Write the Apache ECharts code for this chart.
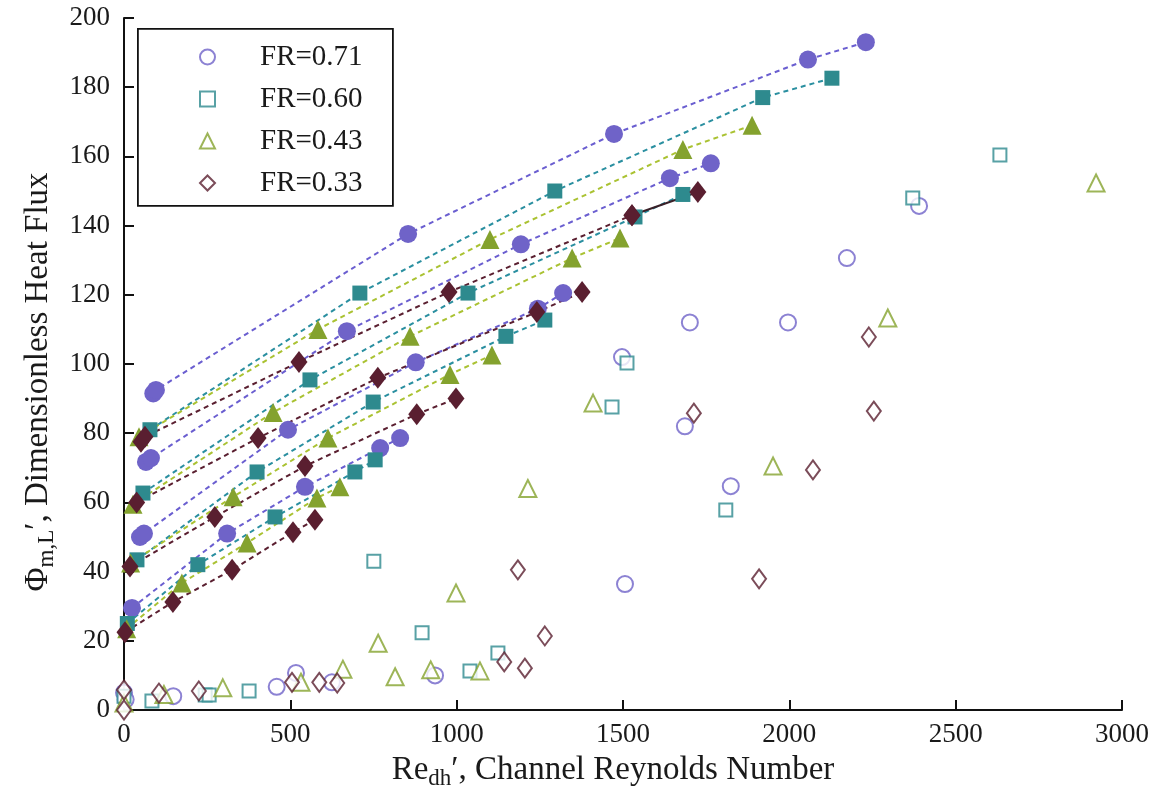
<!DOCTYPE html>
<html><head><meta charset="utf-8">
<script src="https://cdn.jsdelivr.net/npm/echarts@6/dist/echarts.min.js"></script>
<style>html,body{margin:0;padding:0;background:#fff;width:1157px;height:794px;overflow:hidden}#c{width:1157px;height:794px}</style>
</head><body><div id="c"></div>
<script>
// ---- x/y axis ticks ----
const xTicks = [0, 500, 1000, 1500, 2000, 2500, 3000];
const yTicks = [0, 20, 40, 60, 80, 100, 120, 140, 160, 180, 200];
const legendNames = ['FR=0.71', 'FR=0.60', 'FR=0.43', 'FR=0.33'];

// ---- filled points joined by dashed lines (x = Re_dh, y = Phi) ----
// FR = 0.71
const fr071_line1 = [[88,91.5],[96,92.5],[854,137.6],[1473,166.5],[2056,188],[2230,193]];
const fr071_line2 = [[66,71.7],[81,72.8],[670,109.5],[1193,134.6],[1641,153.7],[1764,158]];
const fr071_line3 = [[48,50],[60,51],[493,81],[877,100.5],[1244,116],[1320,120.5]];
const fr071_line4 = [[24,29.5],[310,51],[544,64.5],[770,75.7],[830,78.6]];
// FR = 0.60
const fr060_line1 = [[78,81],[709,120.5],[1295,150],[1920,177],[2128,182.6]];
const fr060_line2 = [[57,62.7],[559,95.4],[1034,120.5],[1536,142.5],[1680,149]];
const fr060_line3 = [[39,43.4],[400,68.8],[749,89],[1148,108],[1265,112.7]];
const fr060_line4 = [[10,25],[222,42],[454,55.8],[694,68.8],[755,72.3]];
// FR = 0.43
const fr043_line1 = [[45,79],[583,110],[1100,136],[1680,162],[1888,169]];
const fr043_line2 = [[27,59.5],[448,86],[860,108],[1347,130.6],[1491,136.4]];
const fr043_line3 = [[20,42.5],[328,61.6],[613,78.6],[980,97],[1106,102.6]];
const fr043_line4 = [[8,23.5],[174,36.7],[370,48.3],[580,61.3],[649,64.5]];
// FR = 0.33
const fr033_line1 = [[51,77.5],[63,79],[526,100.6],[977,120.8],[1527,143]];
const fr033_line1_end = [[1527,143],[1725,149.7]];
const fr033_line2 = [[38,60],[403,78.6],[763,96],[1241,115],[1377,120.8]];
const fr033_line3 = [[18,41.5],[273,55.8],[544,70.5],[880,85.5],[998,90]];
const fr033_line4 = [[3,22.5],[147,31.2],[325,40.5],[508,51.4],[574,55]];

// ---- open symbols ----
const fr071_open = [[0,5],[5,3],[148,4],[459,6.7],[517,10.7],[625,8],[935,10],[1497,102],[1506,36.4],
  [1686,82],[1701,112],[1824,64.7],[1996,112],[2173,130.6],[2390,145.7]];
const fr060_open = [[0,4],[84,2.6],[244,4.3],[256,4.3],[376,5.5],[751,43],[896,22.3],[1040,11.3],[1124,16.5],
  [1467,87.6],[1512,100.3],[1809,57.8],[2371,148],[2633,160.4]];
const fr043_open = [[0,2],[120,4.5],[297,6.4],[532,8],[658,11.8],[764,19.3],[815,9.6],[922,11.6],[998,33.8],
  [1070,11.3],[1214,64],[1410,88.7],[1951,70.5],[2296,113.3],[2922,152.3]];
const fr033_open = [[0,0],[0,5.8],[105,4.9],[225,5.5],[505,8],[587,8],[641,7.8],[1143,13.9],[1184,40.5],
  [1205,12.1],[1265,21.4],[1713,85.8],[1909,37.9],[2071,69.4],[2239,107.8],[2254,86.4]];

// ---- styles ----
const C = {
  p: {mark:'#6f63c8', line:'#6a5ed0', sym:'circle', size:18, open:16},
  t: {mark:'#2e8a8e', line:'#2a8fa0', sym:'rect', size:15, open:13},
  g: {mark:'#84a22e', line:'#aac232', sym:'triangle', size:19, open:17},
  m: {mark:'#5a1f30', line:'#5a1f30', sym:'diamond', size:[17,22], open:[14,19]}
};
const FONT = 'Liberation Serif';

function lineSeries(name, data, st, type) {
  return {
    name: name, type: 'line', data: data, clip: false,
    symbol: st.sym, symbolSize: st.size, showSymbol: true,
    itemStyle: {color: st.mark},
    lineStyle: {color: type === 'solid' ? '#3a2028' : st.line, width: 2, type: type === 'solid' ? 'solid' : [5, 4]},
    z: 3, silent: true
  };
}
function openSeries(name, data, st) {
  return {
    name: name, type: 'scatter', data: data, clip: false,
    symbol: st.sym, symbolSize: st.open,
    itemStyle: {color: '#ffffff', borderColor: st.mark, borderWidth: 2},
    z: 4
  };
}

const series = [
  lineSeries('p1', fr071_line1, C.p), lineSeries('p2', fr071_line2, C.p),
  lineSeries('p3', fr071_line3, C.p), lineSeries('p4', fr071_line4, C.p),
  lineSeries('t1', fr060_line1, C.t), lineSeries('t2', fr060_line2, C.t),
  lineSeries('t3', fr060_line3, C.t), lineSeries('t4', fr060_line4, C.t),
  lineSeries('g1', fr043_line1, C.g), lineSeries('g2', fr043_line2, C.g),
  lineSeries('g3', fr043_line3, C.g), lineSeries('g4', fr043_line4, C.g),
  lineSeries('m1', fr033_line1, C.m), lineSeries('m1e', fr033_line1_end, C.m, 'solid'),
  lineSeries('m2', fr033_line2, C.m),
  lineSeries('m3', fr033_line3, C.m), lineSeries('m4', fr033_line4, C.m),
  openSeries(legendNames[0], fr071_open, C.p),
  openSeries(legendNames[1], fr060_open, C.t),
  openSeries(legendNames[2], fr043_open, C.g),
  openSeries(legendNames[3], fr033_open, C.m)
];

const chart = echarts.init(document.getElementById('c'), null, {renderer: 'canvas', width: 1157, height: 794});
chart.setOption({
  backgroundColor: '#ffffff',
  animation: false,
  textStyle: {fontFamily: FONT},
  grid: {left: 124, right: 35, top: 18, bottom: 84, containLabel: false, outerBoundsMode: 'none'},
  graphic: [{
    type: 'rect', left: 137, top: 28, z: 10, silent: true,
    shape: {width: 255, height: 177},
    style: {fill: '#ffffff', stroke: '#111', lineWidth: 1.8}
  }],
  legend: {
    data: legendNames.map(n => ({name: n})),
    orient: 'vertical', left: 194, top: 36, z: 20,
    itemWidth: 15, itemHeight: 15, itemGap: 10,
    selectedMode: false,
    textStyle: {fontFamily: FONT, fontSize: 29, color: '#1a1a1a', padding: [0, 0, 0, 40], lineHeight: 32}
  },
  xAxis: {
    type: 'value', min: 0, max: 3000, interval: 500,
    axisLine: {show: true, lineStyle: {color: '#111', width: 2}},
    axisTick: {show: true, inside: true, length: 10, lineStyle: {color: '#111', width: 2}},
    axisLabel: {fontFamily: FONT, fontSize: 27, color: '#1a1a1a', margin: 11,
      formatter: v => xTicks.indexOf(v) >= 0 ? String(v) : ''},
    splitLine: {show: false},
    name: '{a|Re}{s|dh}{a|′, Channel Reynolds Number}',
    nameLocation: 'middle', nameGap: 41,
    nameTextStyle: {
      padding: [0, 20, 0, 0],
      rich: {
        a: {fontFamily: FONT, fontSize: 33, color: '#1a1a1a'},
        s: {fontFamily: FONT, fontSize: 23, color: '#1a1a1a', padding: [16, 0, 0, 0]}
      }
    }
  },
  yAxis: {
    type: 'value', min: 0, max: 200, interval: 20,
    axisLine: {show: true, lineStyle: {color: '#111', width: 2}},
    axisTick: {show: true, inside: true, length: 10, lineStyle: {color: '#111', width: 2}},
    axisLabel: {fontFamily: FONT, fontSize: 27, color: '#1a1a1a', margin: 14,
      formatter: v => yTicks.indexOf(v) >= 0 ? String(v) : ''},
    splitLine: {show: false},
    name: '{a|Φ}{s|m,L}{a|′, Dimensionless Heat Flux}',
    nameLocation: 'middle', nameGap: 66,
    nameTextStyle: {
      padding: [0, 36, 0, 0],
      rich: {
        a: {fontFamily: FONT, fontSize: 33, color: '#1a1a1a'},
        s: {fontFamily: FONT, fontSize: 23, color: '#1a1a1a', padding: [16, 0, 0, 0]}
      }
    }
  },
  series: series
});
</script></body></html>
